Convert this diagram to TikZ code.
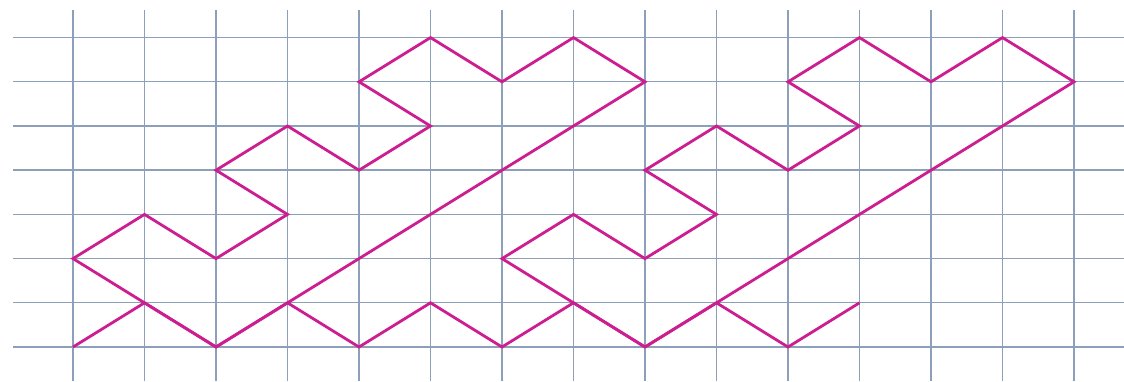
\documentclass[tikz,border=0pt]{standalone}
\begin{document}
\begin{tikzpicture}[x=0.5pt,y=-0.5pt,
  gridline/.style={draw={rgb,255:red,140;green,160;blue,185}, line width=0.75pt},
  figline/.style={draw={rgb,255:red,205;green,30;blue,145}, line width=1.4pt, line join=miter}]
\useasboundingbox[fill=white] (0,0) rectangle (1124,381);
% horizontal grid lines
\foreach \k in {0,...,7}{
  \draw[gridline] (13,{37.5+44.2*\k}) -- (1124,{37.5+44.2*\k});
}
% vertical grid lines
\foreach \i in {0,...,14}{
  \draw[gridline] ({73+71.5*\i},10) -- ({73+71.5*\i},381);
}
\begin{scope}[shift={(36.5pt,-173.5pt)}, x=35.75pt, y=22.1pt]
  \draw[figline] (0,0)--(1,1)--(2,0)--(3,1)--(4,0)--(5,1)--(6,0)--(7,1)--(8,0)--(9,1)--(10,0)--(11,1);
  \draw[figline] (2,0)--(8,6)--(7,7)--(6,6)--(5,7)--(4,6)--(5,5)--(4,4)--(3,5)--(2,4)--(3,3)--(2,2)--(1,3)--(0,2)--(2,0);
  \draw[figline] (8,0)--(14,6)--(13,7)--(12,6)--(11,7)--(10,6)--(11,5)--(10,4)--(9,5)--(8,4)--(9,3)--(8,2)--(7,3)--(6,2)--(8,0);
\end{scope}
\end{tikzpicture}
\end{document}
